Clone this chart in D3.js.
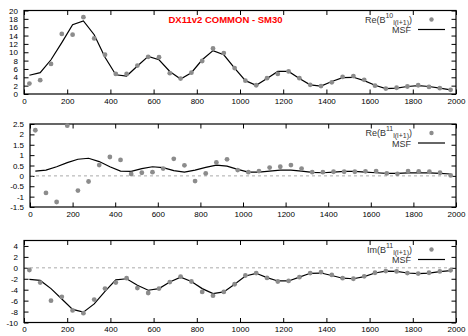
<!DOCTYPE html>
<html><head><meta charset="utf-8">
<script src="https://cdn.jsdelivr.net/npm/d3@7"></script>
<style>body{margin:0;background:#fff}svg{display:block}text{font-family:"Liberation Sans",Arial,Helvetica,sans-serif}</style>
</head><body><svg id="c" width="468" height="336"></svg>
<script>
const ell = [25,75,125,175,225,275,325,375,425,475,525,575,625,675,725,775,825,875,925,975,1025,1075,1125,1175,1225,1275,1325,1375,1425,1475,1525,1575,1625,1675,1725,1775,1825,1875,1925,1975];
const reB10 = [2.5,3.3,7.2,14.4,14.2,18.4,13.3,9.4,4.8,4.8,6.8,8.9,8.8,5.0,3.7,5.1,7.9,10.9,9.8,6.2,3.2,2.1,3.8,4.8,5.4,3.8,2.2,1.9,2.8,4.1,4.3,3.4,2.0,1.3,1.5,1.8,2.1,1.7,1.4,1.0];
const msfB10 = [4.5,5.1,8.2,12.3,16.6,17.5,14.2,8.8,4.6,4.3,6.7,9.0,8.2,5.4,3.6,5.1,8.2,10.4,9.4,6.2,3.2,2.1,3.7,5.4,5.4,3.7,2.2,1.9,3.0,3.9,4.0,3.2,2.1,1.3,1.4,1.8,2.0,1.8,1.4,1.0];
const reB11 = [2.2,-0.82,-1.26,2.42,-0.71,-0.27,0.52,0.91,0.77,0.09,0.15,0.18,0.35,0.82,0.51,-0.25,0.12,0.65,0.80,0.28,0.18,0.23,0.40,0.44,0.52,0.35,0.18,0.18,0.20,0.20,0.20,0.22,0.23,0.12,0.10,0.23,0.22,0.20,0.15,0.02];
const msfReB11 = [0.23,0.28,0.44,0.64,0.80,0.85,0.69,0.44,0.23,0.22,0.35,0.44,0.40,0.25,0.18,0.28,0.41,0.52,0.47,0.31,0.18,0.18,0.23,0.28,0.28,0.23,0.17,0.15,0.18,0.22,0.22,0.18,0.15,0.12,0.12,0.14,0.14,0.14,0.12,0.09];
const imB11 = [-0.4,-2.7,-6.0,-5.3,-7.8,-8.3,-5.8,-3.8,-2.7,-1.9,-3.7,-4.6,-3.8,-2.6,-1.6,-2.5,-4.4,-5.1,-4.4,-3.0,-1.4,-0.95,-1.85,-2.5,-2.4,-1.7,-0.95,-0.8,-1.3,-1.9,-2.0,-1.55,-0.9,-0.6,-0.65,-0.95,-1.05,-0.9,-0.65,-0.45];
const msfImB11 = [-2.1,-2.3,-3.8,-5.7,-7.6,-8.1,-6.6,-4.3,-2.2,-2.0,-3.2,-4.1,-3.8,-2.6,-1.7,-2.5,-3.8,-4.7,-4.4,-3.0,-1.5,-1.0,-1.8,-2.4,-2.4,-1.7,-1.0,-0.95,-1.4,-1.9,-2.0,-1.6,-0.95,-0.6,-0.65,-0.95,-1.05,-0.95,-0.7,-0.5];
const xTicks = [0,200,400,600,800,1000,1200,1400,1600,1800,2000];
const yTicks1 = [0,2,4,6,8,10,12,14,16,18,20];
const yTicks2 = [-1.5,-1,-0.5,0,0.5,1,1.5,2,2.5];
const yTicks3 = [-10,-8,-6,-4,-2,0,2,4];
const title = "DX11v2 COMMON - SM30";

const svg = d3.select("#c");
const panels = [
  {left:24, top:10.5, bottom:94, dom:[0,20], ticks:yTicks1, pts:reB10, msf:msfB10, name:"Re(B", sup:"10", zero:false},
  {left:30, top:124, bottom:207, dom:[-1.5,2.5], ticks:yTicks2, pts:reB11, msf:msfReB11, name:"Re(B", sup:"11", zero:true},
  {left:24, top:240.5, bottom:322.5, dom:[-10,5], ticks:yTicks3, pts:imB11, msf:msfImB11, name:"Im(B", sup:"11", zero:true}
];
const right = 456;
panels.forEach(p => {
  const x = d3.scaleLinear().domain([0,2000]).range([p.left,right]);
  const y = d3.scaleLinear().domain(p.dom).range([p.bottom,p.top]);
  const g = svg.append("g");
  const style = sel => { sel.select(".domain").remove(); sel.selectAll("line").attr("stroke","#000").attr("stroke-width",1); sel.selectAll("text").attr("font-size",8).attr("fill","#000").attr("font-family","'Liberation Sans',Arial,sans-serif"); };
  g.append("g").attr("transform",`translate(0,${p.bottom})`).call(d3.axisBottom(x).tickValues(xTicks).tickSize(-4.5).tickPadding(4).tickFormat(d3.format("d"))).call(style);
  g.append("g").attr("transform",`translate(0,${p.top})`).call(d3.axisTop(x).tickValues(xTicks).tickSize(-4.5).tickFormat("")).call(style);
  g.append("g").attr("transform",`translate(${p.left},0)`).call(d3.axisLeft(y).tickValues(p.ticks).tickSize(-4.5).tickPadding(6).tickFormat(d=>String(d))).call(style);
  g.append("g").attr("transform",`translate(${right},0)`).call(d3.axisRight(y).tickValues(p.ticks).tickSize(-4.5).tickFormat("")).call(style);
  if (p.zero) {
    g.append("line").attr("x1",p.left).attr("x2",right).attr("y1",y(0)).attr("y2",y(0))
      .attr("stroke","#aaa").attr("stroke-width",1).attr("stroke-dasharray","3,3");
  }
  g.append("rect").attr("x",p.left).attr("y",p.top).attr("width",right-p.left).attr("height",p.bottom-p.top)
    .attr("fill","none").attr("stroke","#000").attr("stroke-width",1.2);
  g.append("path").datum(p.msf).attr("fill","none").attr("stroke","#000").attr("stroke-width",1.2)
    .attr("d", d3.line().x((d,i)=>x(ell[i])).y(d=>y(d)));
  g.selectAll("circle.pt").data(p.pts).join("circle").attr("class","pt")
    .attr("cx",(d,i)=>x(ell[i])).attr("cy",d=>y(d)).attr("r",2.4).attr("fill","#8c8c8c");
  // legend
  const t = g.append("text").attr("x",412).attr("y",p.top+12).attr("text-anchor","end").attr("font-size",9).attr("fill","#333");
  t.append("tspan").text(p.name);
  t.append("tspan").attr("dy",-5).attr("font-size",7).text(p.sup);
  t.append("tspan").attr("dy",7).attr("font-size",7).text("l(l+1)");
  t.append("tspan").attr("dy",-2).text(")");
  g.append("text").attr("x",411).attr("y",p.top+22.5).attr("text-anchor","end").attr("font-size",9).attr("fill","#333").text("MSF");
  g.append("circle").attr("cx",431.5).attr("cy",p.top+9).attr("r",2.2).attr("fill","#8c8c8c");
  g.append("line").attr("x1",418).attr("x2",445).attr("y1",p.top+19).attr("y2",p.top+19).attr("stroke","#000").attr("stroke-width",1.2);
});
svg.append("text").attr("x",225.5).attr("y",23).attr("text-anchor","middle").attr("font-size",9.5).attr("font-weight","bold").attr("fill","#f00").text(title);
</script></body></html>
